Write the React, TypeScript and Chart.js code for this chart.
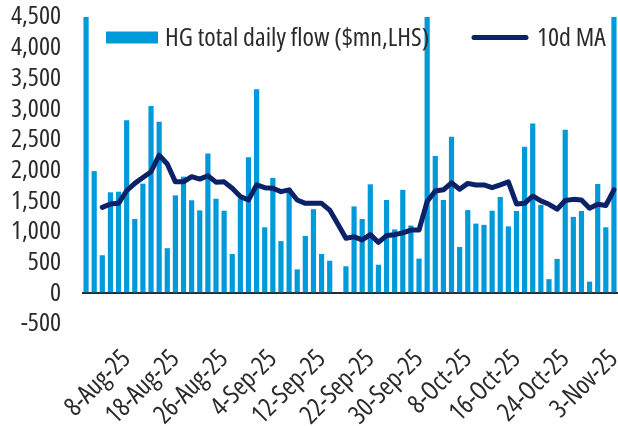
import React, { useEffect, useRef } from "react";
import { Chart, registerables } from "chart.js";

Chart.register(...registerables);

const dates: string[] = [
  "1-Aug-25", "4-Aug-25", "5-Aug-25", "6-Aug-25", "7-Aug-25", "8-Aug-25",
  "11-Aug-25", "12-Aug-25", "13-Aug-25", "14-Aug-25", "15-Aug-25",
  "18-Aug-25", "19-Aug-25", "20-Aug-25", "21-Aug-25", "22-Aug-25",
  "25-Aug-25", "26-Aug-25", "27-Aug-25", "28-Aug-25", "29-Aug-25",
  "2-Sep-25", "3-Sep-25", "4-Sep-25", "5-Sep-25",
  "8-Sep-25", "9-Sep-25", "10-Sep-25", "11-Sep-25", "12-Sep-25",
  "15-Sep-25", "16-Sep-25", "17-Sep-25", "18-Sep-25", "19-Sep-25",
  "22-Sep-25", "23-Sep-25", "24-Sep-25", "25-Sep-25", "26-Sep-25",
  "29-Sep-25", "30-Sep-25",
  "1-Oct-25", "2-Oct-25", "3-Oct-25",
  "6-Oct-25", "7-Oct-25", "8-Oct-25", "9-Oct-25", "10-Oct-25",
  "13-Oct-25", "14-Oct-25", "15-Oct-25", "16-Oct-25", "17-Oct-25",
  "20-Oct-25", "21-Oct-25", "22-Oct-25", "23-Oct-25", "24-Oct-25",
  "27-Oct-25", "28-Oct-25", "29-Oct-25", "30-Oct-25", "31-Oct-25",
  "3-Nov-25",
];

const dailyFlow: (number | null)[] = [
  4800, 1990, 620, 1645, 1655, 2820, 1210, 1785, 3050, 2795,
  735, 1595, 1900, 1515, 1350, 2275, 1540, 1345, 640, 1545,
  2215, 3325, 1075, 1880, 850, 1710, 390, 935, 1370, 640,
  530, null, 440, 1415, 1210, 1775, 465, 1520, 1040, 1685,
  1105, 565, 4800, 2235, 1520, 2550, 755, 1355, 1135, 1115,
  1345, 1570, 1090, 1340, 2385, 2765, 1440, 230, 560, 2665,
  1245, 1340, 190, 1780, 1075, 4800,
];

const movingAvg10d: (number | null)[] = [
  null, null, 1400, 1455, 1465, 1670, 1790, 1885, 1980, 2250,
  2105, 1815, 1815, 1900, 1860, 1915, 1810, 1815, 1710, 1575,
  1520, 1765, 1720, 1710, 1655, 1685, 1520, 1465, 1465, 1465,
  1355, 1130, 895, 920, 870, 955, 830, 940, 955, 985,
  1030, 1030, 1495, 1665, 1685, 1800, 1695, 1790, 1765, 1765,
  1720, 1765, 1815, 1455, 1465, 1585, 1505, 1450, 1370, 1510,
  1530, 1520, 1385, 1450, 1430, 1685,
];

const seriesNames = ["HG total daily flow ($mn,LHS)", "10d MA"];
const yMin = -500;
const yMax = 4500;
const yStep = 500;
const labelEvery = 6;

const FAMILY = '"Open Sans", sans-serif';
const STRETCH = "condensed";
const FSIZE = 26;
const TEXT = "#2a2a2a";
const BAR = "#009ADB";
const NAVY = "#0B2168";

const legendPlugin = {
  id: "innerLegend",
  afterDatasetsDraw(chart: any) {
    const { ctx, chartArea } = chart;
    ctx.save();
    ctx.font = `${STRETCH} ${FSIZE}px ${FAMILY}`;
    ctx.textBaseline = "middle";
    ctx.textAlign = "left";
    const y = chartArea.top + 20.5;
    const x0 = chartArea.left + 24;
    ctx.fillStyle = BAR;
    ctx.fillRect(x0, y - 6, 52, 12);
    ctx.fillStyle = TEXT;
    ctx.fillText(seriesNames[0], x0 + 59, y + 1);
    const x1 = chartArea.left + 390;
    ctx.strokeStyle = NAVY;
    ctx.lineWidth = 5;
    ctx.lineCap = "round";
    ctx.beginPath();
    ctx.moveTo(x1 + 2, y);
    ctx.lineTo(x1 + 54, y);
    ctx.stroke();
    ctx.fillText(seriesNames[1], x1 + 65, y + 1);
    ctx.restore();
  },
};

export default function App() {
  const ref = useRef<HTMLCanvasElement | null>(null);

  useEffect(() => {
    if (!ref.current) return;
    const n = dates.length;
    const tickFont = { family: FAMILY, size: FSIZE, weight: STRETCH as any, lineHeight: 1.2 };
    const chart = new Chart(ref.current, {
      type: "bar",
      data: {
        labels: dates,
        datasets: [
          {
            type: "bar",
            label: seriesNames[0],
            data: dailyFlow,
            backgroundColor: BAR,
            barPercentage: 0.64,
            categoryPercentage: 1,
            order: 2,
          },
          {
            type: "line",
            label: seriesNames[1],
            data: movingAvg10d,
            borderColor: NAVY,
            borderWidth: 5,
            pointRadius: 0,
            tension: 0,
            borderJoinStyle: "round",
            borderCapStyle: "round",
            order: 1,
          } as any,
        ],
      },
      options: {
        responsive: false,
        animation: false,
        devicePixelRatio: 1,
        layout: { padding: 0 },
        plugins: {
          legend: { display: false },
          tooltip: { enabled: false },
        },
        scales: {
          x: {
            offset: true,
            grid: { display: false },
            border: { display: false },
            afterFit: (s: any) => {
              s.height = 102;
              s.paddingLeft = 0;
              s.paddingRight = 0;
            },
            ticks: {
              autoSkip: false,
              minRotation: 45,
              maxRotation: 45,
              padding: 12,
              color: TEXT,
              font: tickFont,
              callback: (_v: any, i: number) =>
                (n - 1 - i) % labelEvery === 0 ? dates[i] : "",
            },
          },
          y: {
            min: yMin,
            max: yMax,
            afterFit: (s: any) => {
              s.width = 82;
              s.paddingTop = 17;
              s.paddingBottom = 0;
            },
            grid: {
              drawTicks: false,
              lineWidth: 2,
              color: (c: any) => (c.tick && c.tick.value === 0 ? "#2a2a2a" : "rgba(0,0,0,0)"),
            },
            border: { display: false },
            ticks: {
              stepSize: yStep,
              autoSkip: false,
              padding: 21,
              color: TEXT,
              font: tickFont,
              callback: (v: any) => Number(v).toLocaleString("en-US"),
            },
          },
        },
      },
      plugins: [legendPlugin],
    });
    return () => chart.destroy();
  }, []);

  return (
    <div style={{ position: "fixed", left: 0, top: 0, width: 618, height: 426, background: "#fff" }}>
      <canvas ref={ref} width={618} height={426} style={{ display: "block" }} />
    </div>
  );
}
